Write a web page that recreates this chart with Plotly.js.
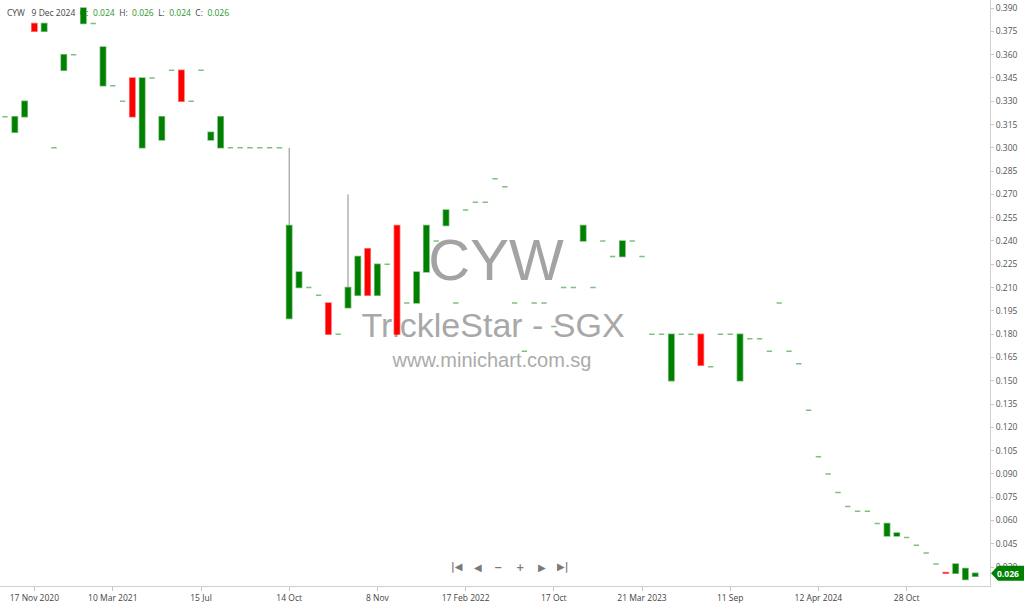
<!DOCTYPE html>
<html>
<head>
<meta charset="utf-8">
<script src="https://cdn.plot.ly/plotly-3.0.1.min.js"></script>
<style>
    html, body { margin: 0; padding: 0; background: #ffffff; }
    #chart { width: 1024px; height: 605px; }
</style>
</head>
<body>
<div id="chart"></div>
<script>
// CYW - TrickleStar (SGX), one candle per traded day, oldest first

const symbol = "CYW";
const company = "TrickleStar - SGX";
const site = "www.minichart.com.sg";
const lastDate = "9 Dec 2024";

const openPx = [
    0.320, 0.310, 0.320, 0.380, 0.375, 0.300, 0.350, 0.360, 0.380, 0.380,
    0.340, 0.340, 0.330, 0.345, 0.300, 0.345, 0.305, 0.350, 0.350, 0.330,
    0.350, 0.305, 0.300, 0.300, 0.300, 0.300, 0.300, 0.300, 0.300, 0.190,
    0.210, 0.210, 0.205, 0.200, 0.180, 0.197, 0.205, 0.235, 0.205, 0.225,
    0.250, 0.200, 0.200, 0.220, 0.240, 0.250, 0.200, 0.260, 0.265, 0.265,
    0.280, 0.275, 0.200, 0.169, 0.200, 0.200, 0.185, 0.210, 0.210, 0.240,
    0.210, 0.240, 0.230, 0.230, 0.240, 0.230, 0.180, 0.180, 0.150, 0.180,
    0.180, 0.180, 0.159, 0.180, 0.180, 0.150, 0.177, 0.177, 0.169, 0.200,
    0.169, 0.161, 0.131, 0.101, 0.090, 0.078, 0.069, 0.066, 0.066, 0.058,
    0.050, 0.050, 0.049, 0.044, 0.039, 0.032, 0.0265, 0.026, 0.022, 0.024
];

const highPx = [
    0.320, 0.320, 0.330, 0.380, 0.380, 0.300, 0.360, 0.360, 0.390, 0.380,
    0.365, 0.340, 0.330, 0.345, 0.345, 0.345, 0.320, 0.350, 0.350, 0.330,
    0.350, 0.310, 0.320, 0.300, 0.300, 0.300, 0.300, 0.300, 0.300, 0.300,
    0.220, 0.210, 0.205, 0.200, 0.180, 0.270, 0.230, 0.235, 0.225, 0.225,
    0.250, 0.200, 0.220, 0.250, 0.240, 0.260, 0.200, 0.260, 0.265, 0.265,
    0.280, 0.275, 0.200, 0.169, 0.200, 0.200, 0.185, 0.210, 0.210, 0.250,
    0.210, 0.240, 0.230, 0.240, 0.240, 0.230, 0.180, 0.180, 0.180, 0.180,
    0.180, 0.180, 0.159, 0.180, 0.180, 0.180, 0.177, 0.177, 0.169, 0.200,
    0.169, 0.161, 0.131, 0.101, 0.090, 0.078, 0.069, 0.066, 0.066, 0.058,
    0.058, 0.052, 0.049, 0.044, 0.039, 0.032, 0.0265, 0.032, 0.029, 0.026
];

const lowPx = [
    0.320, 0.310, 0.320, 0.375, 0.375, 0.300, 0.350, 0.360, 0.380, 0.380,
    0.340, 0.340, 0.330, 0.320, 0.300, 0.345, 0.305, 0.350, 0.330, 0.330,
    0.350, 0.305, 0.300, 0.300, 0.300, 0.300, 0.300, 0.300, 0.300, 0.190,
    0.210, 0.210, 0.205, 0.180, 0.180, 0.197, 0.205, 0.205, 0.205, 0.225,
    0.180, 0.200, 0.200, 0.220, 0.240, 0.250, 0.200, 0.260, 0.265, 0.265,
    0.280, 0.275, 0.200, 0.169, 0.200, 0.200, 0.185, 0.210, 0.210, 0.240,
    0.210, 0.240, 0.230, 0.230, 0.240, 0.230, 0.180, 0.180, 0.150, 0.180,
    0.180, 0.160, 0.159, 0.180, 0.180, 0.150, 0.177, 0.177, 0.169, 0.200,
    0.169, 0.161, 0.131, 0.101, 0.090, 0.078, 0.069, 0.066, 0.066, 0.058,
    0.050, 0.050, 0.049, 0.044, 0.039, 0.032, 0.026, 0.026, 0.022, 0.024
];

const closePx = [
    0.320, 0.320, 0.330, 0.375, 0.380, 0.300, 0.360, 0.360, 0.390, 0.380,
    0.365, 0.340, 0.330, 0.320, 0.345, 0.345, 0.320, 0.350, 0.330, 0.330,
    0.350, 0.310, 0.320, 0.300, 0.300, 0.300, 0.300, 0.300, 0.300, 0.250,
    0.220, 0.210, 0.205, 0.180, 0.180, 0.210, 0.230, 0.205, 0.225, 0.225,
    0.180, 0.200, 0.220, 0.250, 0.240, 0.260, 0.200, 0.260, 0.265, 0.265,
    0.280, 0.275, 0.200, 0.169, 0.200, 0.200, 0.185, 0.210, 0.210, 0.250,
    0.210, 0.240, 0.230, 0.240, 0.240, 0.230, 0.180, 0.180, 0.180, 0.180,
    0.180, 0.160, 0.159, 0.180, 0.180, 0.180, 0.177, 0.177, 0.169, 0.200,
    0.169, 0.161, 0.131, 0.101, 0.090, 0.078, 0.069, 0.066, 0.066, 0.058,
    0.058, 0.052, 0.049, 0.044, 0.039, 0.032, 0.026, 0.032, 0.029, 0.026
];

// date labels under the candle they belong to
const tickIdx = [3, 11, 20, 29, 38, 47, 56, 65, 74, 83, 92];
const tickText = ["17 Nov 2020", "10 Mar 2021", "15 Jul", "14 Oct", "8 Nov", "17 Feb 2022",
                  "17 Oct", "21 Mar 2023", "11 Sep", "12 Apr 2024", "28 Oct"];

const UP = "#008000";
const DOWN = "#ff0000";
const FONT = "Open Sans, sans-serif";

function pick(cond) {
    const sel = { x: [], open: [], high: [], low: [], close: [] };
    closePx.forEach((c, i) => {
        if (!cond(openPx[i], c)) return;
        sel.x.push(i);
        sel.open.push(openPx[i]);
        sel.high.push(Math.max(openPx[i], c));
        sel.low.push(Math.min(openPx[i], c));
        sel.close.push(c);
    });
    return sel;
}

function candleTrace(sel, fill, edge) {
    const side = { fillcolor: fill, line: { color: edge, width: 1.5 } };
    return Object.assign({
        type: "candlestick",
        increasing: side,
        decreasing: side,
        whiskerwidth: 0,
        hoverinfo: "skip",
        showlegend: false
    }, sel);
}

// thin grey shadows where the high sits above the body
const wick = { x: [], y: [] };
highPx.forEach((h, i) => {
    const top = Math.max(openPx[i], closePx[i]);
    if (h > top) {
        wick.x.push(i, i, null);
        wick.y.push(top, h, null);
    }
});

const last = closePx.length - 1;
const fmt = v => v.toFixed(3);

const traces = [
    { type: "scatter", mode: "lines", x: wick.x, y: wick.y,
      line: { color: "#8a8a8a", width: 1 }, hoverinfo: "skip", showlegend: false },
    candleTrace(pick((o, c) => c >= o), UP, "rgba(0,128,0,0.5)"),
    candleTrace(pick((o, c) => c < o), DOWN, "rgba(255,0,0,0.5)")
];

function watermark(text, cx, cy, size, color) {
    return {
        type: "rect", xref: "paper", yref: "paper", layer: "below",
        x0: cx - 0.3, x1: cx + 0.3, y0: cy - 0.05, y1: cy + 0.05,
        line: { width: 0 }, fillcolor: "rgba(0,0,0,0)",
        label: { text, textposition: "middle center",
                 font: { family: "Liberation Sans, Arial, sans-serif", size, color } }
    };
}

const lbl = t => '<span style="color:#444">' + t + '</span>';
const val = v => '<span style="color:#2a962a">' + fmt(v) + '</span>';
const sp = "\u00a0\u00a0";
const header = lbl(symbol) + sp + "\u00a0" + lbl(lastDate) + sp + lbl("O:") + sp + val(openPx[last]) + sp +
               lbl("H:") + sp + val(highPx[last]) + sp + lbl("L:") + sp + val(lowPx[last]) + sp +
               lbl("C:") + sp + val(closePx[last]);

const shapes = [
    watermark(symbol, 0.501, 0.566, 58, "#a3a3a3"),
    watermark(company, 0.498, 0.451, 34, "#a8a8a8"),
    watermark(site, 0.497, 0.389, 20, "#ababab"),
    {
        type: "rect", xref: "paper", yref: "paper", layer: "below",
        x0: 0.001, x1: 0.4, y0: 0.96, y1: 0.996,
        line: { width: 0 }, fillcolor: "rgba(0,0,0,0)",
        label: { text: header, textposition: "middle left", padding: 3,
                 font: { family: FONT, size: 8.5, color: "#444" } }
    },
    // last price tag, pointing at the price axis
    {
        type: "path", xref: "paper", yref: "y",
        xsizemode: "pixel", xanchor: 1, ysizemode: "pixel", yanchor: closePx[last],
        path: "M1,0 L8,7.5 L36,7.5 L36,-7.5 L8,-7.5 Z",
        line: { width: 0 }, fillcolor: UP
    }
];

// chart navigation strip
const navIcons = ["|\u25C0", "\u25C0", "\u2212", "+", "\u25B6", "\u25B6|"];
const navX = [0.4616, 0.4828, 0.5035, 0.5253, 0.5475, 0.5682];
const annotations = navIcons.map((t, i) => ({
    text: "<b>" + t + "</b>", xref: "paper", yref: "paper", x: navX[i], y: 0.0188,
    showarrow: false, font: { family: "DejaVu Sans, sans-serif", size: 10, color: "#7a7a7a" }
}));

annotations.push({
    text: "<b>" + fmt(closePx[last]) + "</b>", xref: "paper", yref: "y", x: 1, y: closePx[last],
    xanchor: "left", xshift: 5, showarrow: false,
    font: { family: FONT, size: 8.5, color: "#ffffff" }
});

const layout = {
    width: 1024,
    height: 605,
    paper_bgcolor: "#ffffff",
    plot_bgcolor: "rgba(0,0,0,0)",
    margin: { t: 0, r: 34, b: 19, l: 0 },
    showlegend: false,
    boxgap: 0.22,
    font: { family: FONT, size: 8.5, color: "#555" },
    xaxis: {
        range: [-0.51, 100.51],
        rangeslider: { visible: false },
        tickmode: "array", tickvals: tickIdx, ticktext: tickText,
        ticks: "outside", ticklen: 4, tickcolor: "#c8c8c8",
        showline: true, linecolor: "#cfcfcf", linewidth: 1,
        showgrid: false, zeroline: false,
        tickfont: { family: FONT, size: 8.5, color: "#444" }
    },
    yaxis: {
        side: "right",
        range: [0.0178, 0.3952],
        tickmode: "linear", tick0: 0.03, dtick: 0.015, tickformat: ".3f",
        ticks: "outside", ticklen: 3, tickcolor: "#c8c8c8",
        showline: true, linecolor: "#cfcfcf", linewidth: 1,
        showgrid: false, zeroline: false,
        tickfont: { family: FONT, size: 8.5, color: "#555" }
    },
    shapes,
    annotations
};

Plotly.newPlot("chart", traces, layout, { displayModeBar: false, staticPlot: true });
</script>
</body>
</html>
